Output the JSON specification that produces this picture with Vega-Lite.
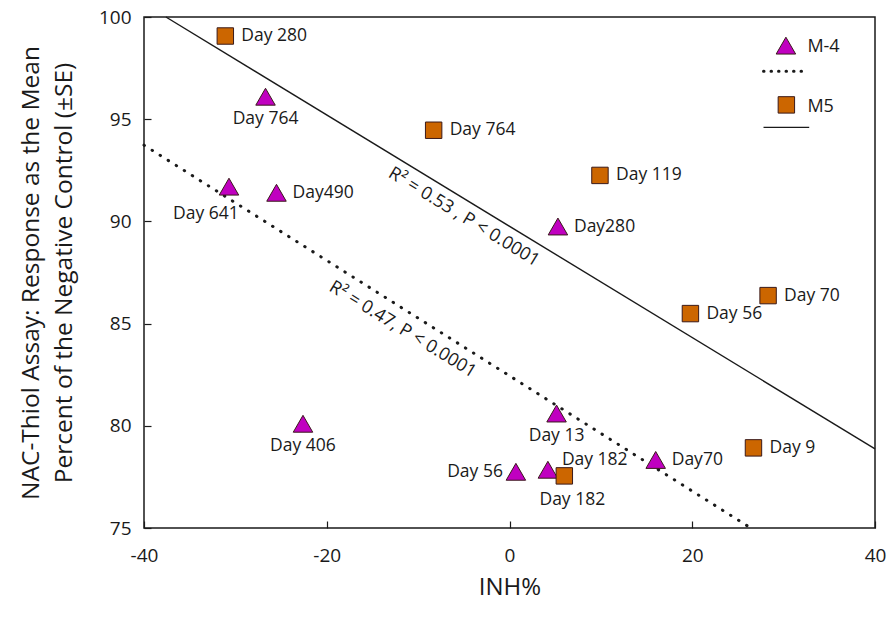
{
  "$schema": "https://vega.github.io/schema/vega-lite/v6.json",
  "width": 731,
  "height": 511,
  "autosize": {"type": "none"},
  "padding": {"left": 144, "top": 17, "right": 14, "bottom": 89},
  "background": "white",
  "config": {
    "view": {"stroke": "#1a1a1a", "strokeWidth": 1.5},
    "font": "Open Sans",
    "axis": {
      "domain": false,
      "grid": false,
      "tickColor": "#1a1a1a",
      "tickSize": -7,
      "tickWidth": 1.2,
      "labelColor": "#1a1a1a",
      "labelFontSize": 19,
      "labelFlush": false,
      "labelExpr": "'' + datum.value",
      "titleColor": "#1a1a1a",
      "titleFontSize": 24.5,
      "titleFontWeight": "normal"
    }
  },
  "datasets": {
    "points": [
      {"series": "M-4", "inh": -26.7, "nac": 96.1, "label": "Day 764", "pos": "below"},
      {"series": "M-4", "inh": -30.7, "nac": 91.7, "label": "Day 641", "pos": "belowleft"},
      {"series": "M-4", "inh": -25.5, "nac": 91.4, "label": "Day490", "pos": "right"},
      {"series": "M-4", "inh": -22.6, "nac": 80.1, "label": "Day 406", "pos": "below"},
      {"series": "M-4", "inh": 5.3, "nac": 89.75, "label": "Day280", "pos": "right"},
      {"series": "M-4", "inh": 5.15, "nac": 80.6, "label": "Day 13", "pos": "below"},
      {"series": "M-4", "inh": 0.7, "nac": 77.75, "label": "Day 56", "pos": "left"},
      {"series": "M-4", "inh": 4.2, "nac": 77.85, "label": "Day 182", "pos": "aboveright"},
      {"series": "M-4", "inh": 16.0, "nac": 78.33, "label": "Day70", "pos": "right"},
      {"series": "M5", "inh": -31.1, "nac": 99.07, "label": "Day 280", "pos": "right"},
      {"series": "M5", "inh": -8.3, "nac": 94.46, "label": "Day 764", "pos": "right"},
      {"series": "M5", "inh": 9.9, "nac": 92.25, "label": "Day 119", "pos": "right"},
      {"series": "M5", "inh": 28.3, "nac": 86.37, "label": "Day 70", "pos": "right"},
      {"series": "M5", "inh": 19.8, "nac": 85.49, "label": "Day 56", "pos": "right"},
      {"series": "M5", "inh": 26.7, "nac": 78.92, "label": "Day 9", "pos": "right"},
      {"series": "M5", "inh": 6.0, "nac": 77.55, "label": "Day 182", "pos": "below"}
    ],
    "fitM5": [
      {"inh": -37.6, "nac": 100},
      {"inh": 40, "nac": 78.87}
    ],
    "fitM4": [
      {"inh": -40, "nac": 93.73},
      {"inh": 26.4, "nac": 75}
    ],
    "fitText": [
      {"series": "M5", "inh": -5.0, "nac": 90.2, "text": "R² = 0.53 , P < 0.0001"},
      {"series": "M-4", "inh": -11.7, "nac": 84.7, "text": "R² = 0.47, P < 0.0001"}
    ],
    "keySymbols": [
      {"series": "M-4", "inh": 30.25, "nac": 98.6},
      {"series": "M5", "inh": 30.3, "nac": 95.7}
    ],
    "keyText": [
      {"series": "M-4", "inh": 32.6, "nac": 98.55},
      {"series": "M5", "inh": 32.6, "nac": 95.6}
    ],
    "keyDotted": [
      {"inh": 27.8, "nac": 97.35},
      {"inh": 32.2, "nac": 97.35}
    ],
    "keySolid": [
      {"inh": 27.8, "nac": 94.6},
      {"inh": 32.8, "nac": 94.6}
    ]
  },
  "encoding": {
    "x": {
      "field": "inh",
      "type": "quantitative",
      "scale": {"domain": [-40, 40], "nice": false},
      "axis": {"values": [-40, -20, 0, 20, 40], "title": "INH%", "titleFontSize": 24, "labelPadding": 25, "titlePadding": 10}
    },
    "y": {
      "field": "nac",
      "type": "quantitative",
      "scale": {"domain": [75, 100], "nice": false},
      "axis": {
        "values": [75, 80, 85, 90, 95, 100],
        "title": ["NAC-Thiol Assay: Response as the Mean", "Percent of the Negative Control (±SE)"],
        "titleLineHeight": 33,
        "labelPadding": 20,
        "titlePadding": 22
      }
    }
  },
  "layer": [
    {
      "data": {"name": "fitM5"},
      "mark": {"type": "line", "color": "#1a1a1a", "strokeWidth": 1.4}
    },
    {
      "data": {"name": "fitM4"},
      "mark": {"type": "line", "color": "#1a1a1a", "strokeWidth": 3, "strokeDash": [0.5, 9], "strokeCap": "round"}
    },
    {
      "data": {"name": "fitText"},
      "mark": {"type": "text", "fontSize": 18, "angle": 31.5, "align": "center", "baseline": "middle", "color": "#1a1a1a"},
      "encoding": {"text": {"field": "text"}}
    },
    {
      "data": {"name": "points"},
      "mark": {"type": "point", "filled": true, "stroke": "#3a1a1a", "strokeWidth": 1, "opacity": 1},
      "encoding": {
        "shape": {"field": "series", "scale": {"domain": ["M-4", "M5"], "range": ["triangle-up", "square"]}, "legend": null},
        "fill": {"field": "series", "scale": {"domain": ["M-4", "M5"], "range": ["#C000C0", "#CC6600"]}, "legend": null},
        "size": {"field": "series", "scale": {"domain": ["M-4", "M5"], "range": [380, 270]}, "legend": null}
      }
    },
    {
      "data": {"name": "points"},
      "transform": [{"filter": "datum.pos === 'right'"}],
      "mark": {"type": "text", "fontSize": 17.5, "align": "left", "baseline": "middle", "dx": 16, "color": "#1a1a1a"},
      "encoding": {"text": {"field": "label"}}
    },
    {
      "data": {"name": "points"},
      "transform": [{"filter": "datum.pos === 'left'"}],
      "mark": {"type": "text", "fontSize": 17.5, "align": "right", "baseline": "middle", "dx": -13, "color": "#1a1a1a"},
      "encoding": {"text": {"field": "label"}}
    },
    {
      "data": {"name": "points"},
      "transform": [{"filter": "datum.pos === 'below' && datum.series === 'M-4'"}],
      "mark": {"type": "text", "fontSize": 17.5, "align": "center", "baseline": "middle", "dy": 22, "color": "#1a1a1a"},
      "encoding": {"text": {"field": "label"}}
    },
    {
      "data": {"name": "points"},
      "transform": [{"filter": "datum.pos === 'below' && datum.series === 'M5'"}],
      "mark": {"type": "text", "fontSize": 17.5, "align": "center", "baseline": "middle", "dx": 8, "dy": 24, "color": "#1a1a1a"},
      "encoding": {"text": {"field": "label"}}
    },
    {
      "data": {"name": "points"},
      "transform": [{"filter": "datum.pos === 'belowleft'"}],
      "mark": {"type": "text", "fontSize": 17.5, "align": "center", "baseline": "middle", "dx": -23, "dy": 27, "color": "#1a1a1a"},
      "encoding": {"text": {"field": "label"}}
    },
    {
      "data": {"name": "points"},
      "transform": [{"filter": "datum.pos === 'aboveright'"}],
      "mark": {"type": "text", "fontSize": 17.5, "align": "left", "baseline": "middle", "dx": 14, "dy": -10, "color": "#1a1a1a"},
      "encoding": {"text": {"field": "label"}}
    },
    {
      "data": {"name": "keyDotted"},
      "mark": {"type": "line", "color": "#1a1a1a", "strokeWidth": 3, "strokeDash": [0.5, 7], "strokeCap": "round"}
    },
    {
      "data": {"name": "keySolid"},
      "mark": {"type": "line", "color": "#1a1a1a", "strokeWidth": 1.4}
    },
    {
      "data": {"name": "keySymbols"},
      "mark": {"type": "point", "filled": true, "stroke": "#3a1a1a", "strokeWidth": 1, "opacity": 1},
      "encoding": {
        "shape": {"field": "series", "scale": {"domain": ["M-4", "M5"], "range": ["triangle-up", "square"]}, "legend": null},
        "fill": {"field": "series", "scale": {"domain": ["M-4", "M5"], "range": ["#C000C0", "#CC6600"]}, "legend": null},
        "size": {"field": "series", "scale": {"domain": ["M-4", "M5"], "range": [380, 270]}, "legend": null}
      }
    },
    {
      "data": {"name": "keyText"},
      "mark": {"type": "text", "fontSize": 18, "align": "left", "baseline": "middle", "color": "#1a1a1a"},
      "encoding": {"text": {"field": "series"}}
    }
  ]
}
